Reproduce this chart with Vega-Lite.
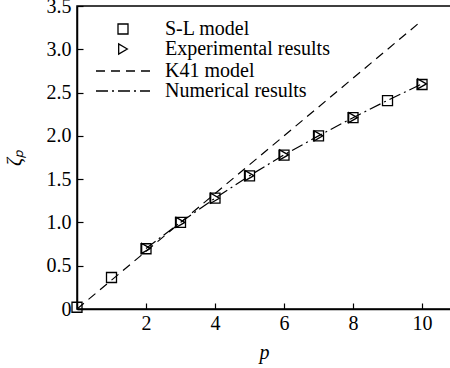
{
  "$schema": "https://vega.github.io/schema/vega-lite/v6.json",
  "width": 374,
  "height": 303,
  "autosize": {"type": "none"},
  "padding": {"left": 77, "top": 6, "right": 0, "bottom": 59},
  "background": "white",
  "config": {
    "font": "Liberation Serif",
    "view": {"stroke": "black", "strokeWidth": 1.5},
    "axis": {
      "domainColor": "black", "domainWidth": 1.5, "tickColor": "black", "tickWidth": 1.2,
      "labelFont": "Liberation Serif", "labelFontSize": 20, "labelColor": "black",
      "titleFont": "Liberation Serif", "titleFontSize": 20, "titleFontWeight": "normal", "titleColor": "black",
      "grid": false
    },
    "legend": {
      "labelFont": "Liberation Serif", "labelFontSize": 20, "labelColor": "black", "labelLimit": 400,
      "symbolStrokeColor": "black", "symbolStrokeWidth": 1.3, "symbolFillColor": "transparent", "padding": 0, "title": null
    }
  },
  "datasets": {
    "lines": [
      {"p": 0, "zeta": 0, "series": "K41 model"},
      {"p": 10, "zeta": 3.333, "series": "K41 model"},
      {"p": 2, "zeta": 0.70, "series": "Numerical results"},
      {"p": 3, "zeta": 1.00, "series": "Numerical results"},
      {"p": 4, "zeta": 1.28, "series": "Numerical results"},
      {"p": 5, "zeta": 1.54, "series": "Numerical results"},
      {"p": 6, "zeta": 1.78, "series": "Numerical results"},
      {"p": 7, "zeta": 2.00, "series": "Numerical results"},
      {"p": 8, "zeta": 2.21, "series": "Numerical results"},
      {"p": 9, "zeta": 2.41, "series": "Numerical results"},
      {"p": 10, "zeta": 2.60, "series": "Numerical results"}
    ],
    "pts": [
      {"p": 0, "zeta": 0.02, "series": "S-L model"},
      {"p": 1, "zeta": 0.364, "series": "S-L model"},
      {"p": 2, "zeta": 0.696, "series": "S-L model"},
      {"p": 3, "zeta": 1.0, "series": "S-L model"},
      {"p": 4, "zeta": 1.28, "series": "S-L model"},
      {"p": 5, "zeta": 1.538, "series": "S-L model"},
      {"p": 6, "zeta": 1.778, "series": "S-L model"},
      {"p": 7, "zeta": 2.0, "series": "S-L model"},
      {"p": 8, "zeta": 2.211, "series": "S-L model"},
      {"p": 9, "zeta": 2.407, "series": "S-L model"},
      {"p": 10, "zeta": 2.593, "series": "S-L model"},
      {"p": 2, "zeta": 0.70, "series": "Experimental results"},
      {"p": 3, "zeta": 1.0, "series": "Experimental results"},
      {"p": 4, "zeta": 1.28, "series": "Experimental results"},
      {"p": 5, "zeta": 1.54, "series": "Experimental results"},
      {"p": 6, "zeta": 1.78, "series": "Experimental results"},
      {"p": 7, "zeta": 2.0, "series": "Experimental results"},
      {"p": 8, "zeta": 2.21, "series": "Experimental results"},
      {"p": 10, "zeta": 2.60, "series": "Experimental results"}
    ]
  },
  "encoding": {
    "x": {
      "field": "p", "type": "quantitative",
      "scale": {"domain": [0, 10.84], "nice": false, "zero": false},
      "axis": {"title": "p", "titleFontStyle": "italic", "values": [2, 4, 6, 8, 10], "tickSize": -6, "labelPadding": 10, "titlePadding": 9}
    },
    "y": {
      "field": "zeta", "type": "quantitative",
      "scale": {"domain": [0, 3.5], "nice": false},
      "axis": {"title": "ζₚ", "titleFontStyle": "italic", "values": [0, 0.5, 1, 1.5, 2, 2.5, 3, 3.5], "tickSize": -6, "labelPadding": 12, "titlePadding": 22,
        "labelExpr": "datum.value == 0 ? '0' : format(datum.value, '.1f')"}
    }
  },
  "layer": [
    {
      "data": {"name": "lines"},
      "mark": {"type": "line", "color": "black", "strokeWidth": 1.2, "clip": true},
      "encoding": {
        "strokeDash": {
          "field": "series", "type": "nominal",
          "scale": {"domain": ["K41 model", "Numerical results"], "range": [[9, 6], [12, 4, 2, 4]]},
          "legend": {"orient": "none", "legendX": 36, "legendY": 55, "symbolSize": 100, "symbolType": "M-5.4,0H5.4", "labelOffset": 32, "rowPadding": -1}
        }
      }
    },
    {
      "data": {"name": "pts"},
      "mark": {"type": "point", "filled": false, "stroke": "black", "strokeWidth": 1.3, "size": 100, "opacity": 1},
      "encoding": {
        "shape": {
          "field": "series", "type": "nominal",
          "scale": {"domain": ["S-L model", "Experimental results"], "range": ["square", "triangle-right"]},
          "legend": {"orient": "none", "legendX": 36, "legendY": 13, "symbolSize": 100, "labelOffset": 32, "rowPadding": -1}
        }
      }
    }
  ]
}
